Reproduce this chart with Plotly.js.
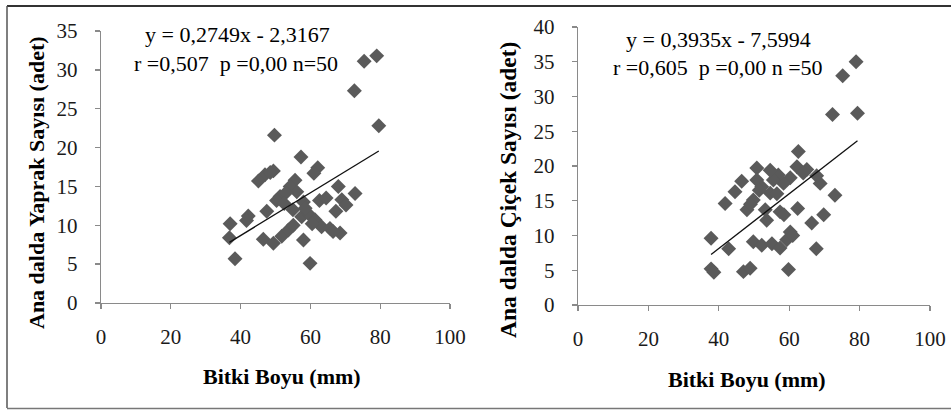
<!DOCTYPE html>
<html>
<head>
<meta charset="utf-8">
<script src="https://cdn.plot.ly/plotly-3.0.1.min.js"></script>
<style>html,body{margin:0;padding:0;background:#fff;}#chart{width:951px;height:410px;}</style>
</head>
<body>
<div id="chart"></div>
<script>
// Left panel: Bitki Boyu (mm) vs Ana dalda Yaprak Sayısı (adet)
const leafX = [79.0,75.4,72.6,79.6,49.7,57.3,62.1,61.0,49.4,47.0,45.1,55.6,54.2,56.1,51.3,50.3,58.0,62.6,68.0,69.0,70.2,72.8,67.3,47.5,42.2,41.7,37.0,36.8,38.4,59.9,58.0,46.5,49.4,51.8,53.7,55.1,57.5,59.4,61.3,63.2,65.6,68.5,58.5,53.0,55.0,60.5,66.5,52.5,48.5,64.5];
const leafY = [31.8,31.1,27.3,22.8,21.6,18.8,17.4,16.7,17.0,16.5,15.7,15.8,15.0,14.3,13.7,13.2,13.0,13.2,15.0,13.3,12.6,14.1,11.8,11.8,11.2,10.6,10.2,8.4,5.7,5.1,8.1,8.2,7.7,8.6,9.4,10.0,11.1,11.5,10.7,9.8,9.6,9.0,12.2,14.2,12.0,10.2,9.2,12.8,16.8,13.5];
// Right panel: Bitki Boyu (mm) vs Ana dalda Çiçek Sayısı (adet)
const flowerX = [79.0,75.2,72.3,79.4,62.6,73.0,69.8,66.4,67.7,68.8,67.8,65.0,62.2,60.3,58.4,56.9,55.5,54.6,50.8,50.8,52.2,46.5,44.6,41.8,49.8,48.0,54.6,53.6,53.2,57.4,62.4,37.8,42.8,49.8,52.2,55.1,57.4,59.3,60.3,37.8,38.6,47.0,48.9,59.8,51.5,56.5,49.0,64.0,61.0,58.5];
const flowerY = [35.0,33.0,27.4,27.6,22.1,15.8,13.0,11.8,8.1,17.5,18.6,19.5,19.9,18.3,17.5,18.7,18.0,19.4,19.7,18.0,17.0,17.8,16.3,14.6,15.1,13.7,16.1,12.2,13.7,13.4,13.9,9.6,8.1,9.1,8.6,8.8,8.2,9.4,10.5,5.2,4.7,4.8,5.3,5.1,16.5,16.0,14.5,19.0,10.0,13.0];

const leafFit = {slope: 0.2749, intercept: -2.3167};
const flowerFit = {slope: 0.3935, intercept: -7.5994};
const leafEq = ["y = 0,2749x - 2,3167", "r =0,507  p =0,00 n=50"];
const flowerEq = ["y = 0,3935x - 7,5994", "r =0,605  p =0,00 n =50"];
const xTicks = [0,20,40,60,80,100];
const leafYTicks = [0,5,10,15,20,25,30,35];
const flowerYTicks = [0,5,10,15,20,25,30,35,40];
const xTitle = "Bitki Boyu (mm)";
const leafYTitle = "Ana dalda Yaprak Sayısı (adet)";
const flowerYTitle = "Ana dalda Çiçek Sayısı (adet)";

function fitLine(xs, fit){
  const lo = Math.min(...xs), hi = Math.max(...xs);
  return {x:[lo,hi], y:[fit.slope*lo+fit.intercept, fit.slope*hi+fit.intercept]};
}
const lf = fitLine(leafX, leafFit), ff = fitLine(flowerX, flowerFit);
const mk = {symbol:'diamond', size:11.5, color:'#5a5a5a', line:{width:0}};
const FONT = '"Liberation Serif", "Times New Roman", serif';

const traces = [
  {x:leafX, y:leafY, type:'scatter', mode:'markers', marker:mk, xaxis:'x', yaxis:'y', hoverinfo:'none'},
  {x:lf.x, y:lf.y, type:'scatter', mode:'lines', line:{color:'#111', width:1.3}, xaxis:'x', yaxis:'y', hoverinfo:'none'},
  {x:flowerX, y:flowerY, type:'scatter', mode:'markers', marker:mk, xaxis:'x2', yaxis:'y2', hoverinfo:'none'},
  {x:ff.x, y:ff.y, type:'scatter', mode:'lines', line:{color:'#111', width:1.3}, xaxis:'x2', yaxis:'y2', hoverinfo:'none'}
];

const axBase = {
  showgrid:false, zeroline:false, showline:true, linecolor:'#8a8a8a', linewidth:1.3,
  ticks:'outside', ticklen:5, tickcolor:'#8a8a8a', tickwidth:1.3,
  tickfont:{family:FONT, size:21, color:'#1a1a1a'}, fixedrange:true
};
const W = 951, H = 410;
const px = v => v/W, py = v => 1 - v/H;

const layout = {
  width:W, height:H, margin:{l:0,r:0,t:0,b:0}, showlegend:false,
  paper_bgcolor:'#fff', plot_bgcolor:'#fff',
  font:{family:FONT},
  xaxis: Object.assign({}, axBase, {domain:[px(101), px(450)], range:[0,100], tickvals:xTicks, ticktext:xTicks.map(String), anchor:'y', ticklabelstandoff:9}),
  yaxis: Object.assign({}, axBase, {domain:[py(303), py(31)], range:[0,35], tickvals:leafYTicks, ticktext:leafYTicks.map(String), anchor:'x', ticklabelstandoff:13}),
  xaxis2: Object.assign({}, axBase, {domain:[px(578), px(930)], range:[0,100], tickvals:xTicks, ticktext:xTicks.map(String), anchor:'y2', ticklabelstandoff:9}),
  yaxis2: Object.assign({}, axBase, {domain:[py(305), py(27)], range:[0,40], tickvals:flowerYTicks, ticktext:flowerYTicks.map(String), anchor:'x2', ticklabelstandoff:13}),
  annotations: [
    {xref:'paper', yref:'paper', x:px(237), y:py(35), text:leafEq[0], showarrow:false, font:{family:FONT, size:22, color:'#000'}, xanchor:'center', yanchor:'middle'},
    {xref:'paper', yref:'paper', x:px(236), y:py(63), text:leafEq[1], showarrow:false, font:{family:FONT, size:22, color:'#000'}, xanchor:'center', yanchor:'middle'},
    {xref:'paper', yref:'paper', x:px(718), y:py(40), text:flowerEq[0], showarrow:false, font:{family:FONT, size:22, color:'#000'}, xanchor:'center', yanchor:'middle'},
    {xref:'paper', yref:'paper', x:px(718), y:py(67), text:flowerEq[1], showarrow:false, font:{family:FONT, size:22, color:'#000'}, xanchor:'center', yanchor:'middle'},
    {xref:'paper', yref:'paper', x:px(282), y:py(376), text:'<b>'+xTitle+'</b>', showarrow:false, font:{family:FONT, size:22, color:'#000'}, xanchor:'center', yanchor:'middle'},
    {xref:'paper', yref:'paper', x:px(747), y:py(379), text:'<b>'+xTitle+'</b>', showarrow:false, font:{family:FONT, size:22, color:'#000'}, xanchor:'center', yanchor:'middle'},
    {xref:'paper', yref:'paper', x:px(37), y:py(183), text:'<b>'+leafYTitle+'</b>', textangle:-90, showarrow:false, font:{family:FONT, size:22, color:'#000'}, xanchor:'center', yanchor:'middle'},
    {xref:'paper', yref:'paper', x:px(508), y:py(190), text:'<b>'+flowerYTitle+'</b>', textangle:-90, showarrow:false, font:{family:FONT, size:23.5, color:'#000'}, xanchor:'center', yanchor:'middle'}
  ],
  shapes: [
    {type:'line', xref:'paper', yref:'paper', x0:px(7), x1:1, y0:py(6), y1:py(6), line:{color:'#333', width:2}},
    {type:'line', xref:'paper', yref:'paper', x0:px(7), x1:px(7), y0:py(6), y1:py(408), line:{color:'#555', width:1.5}},
    {type:'line', xref:'paper', yref:'paper', x0:px(7), x1:1, y0:py(408.5), y1:py(408.5), line:{color:'#777', width:1.5}}
  ]
};
Plotly.newPlot('chart', traces, layout, {staticPlot:true, displayModeBar:false});
</script>
</body>
</html>
